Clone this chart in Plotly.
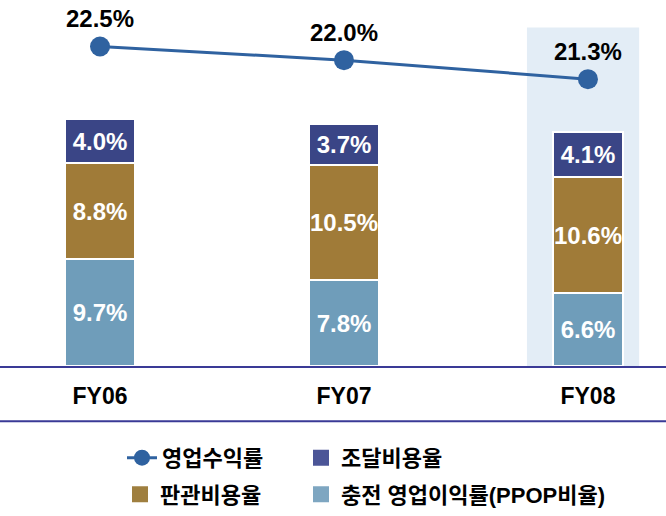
import plotly.graph_objects as go

categories = ["FY06", "FY07", "FY08"]
ppop = [9.7, 7.8, 6.6]          # 충전 영업이익률(PPOP비율)
sga = [8.8, 10.5, 10.6]         # 판관비용율
funding = [4.0, 3.7, 4.1]       # 조달비용율
op_margin = [22.5, 22.0, 21.3]  # 영업수익률

names = ["영업수익률", "조달비용율", "판관비용율", "충전 영업이익률(PPOP비율)"]

C_LINE = "#2F62A0"
C_NAVY = "#3A4586"
C_GOLD = "#A07B38"
C_LBLUE = "#6F9DBA"
L_NAVY = "#4B5597"
L_GOLD = "#9F7F3F"
L_LBLUE = "#7EA6C1"
AXIS_C = "#3A3A96"

FONT = "Liberation Sans, Arial, Noto Sans CJK KR, sans-serif"

xi = [0, 1, 2]

fig = go.Figure()

def fmt(v):
    return [f"{a:.1f}%" for a in v]

for vals, col in [(ppop, C_LBLUE), (sga, C_GOLD), (funding, C_NAVY)]:
    fig.add_trace(go.Bar(
        x=xi, y=vals, width=0.29, marker=dict(color=col, line=dict(color="white", width=2)),
        text=fmt(vals), textposition="inside", insidetextanchor="middle", textangle=0,
        textfont=dict(family=FONT, size=24, color="white", weight="bold"),
        constraintext="none", showlegend=False, hoverinfo="skip",
    ))

fig.add_trace(go.Scatter(
    x=xi, y=op_margin, yaxis="y2", mode="lines+markers+text",
    line=dict(color=C_LINE, width=3), marker=dict(size=20, color=C_LINE),
    text=fmt(op_margin), textposition="top center",
    textfont=dict(family=FONT, size=24, color="black", weight="bold"),
    name=names[0], legend="legend", hoverinfo="skip",
))

# legend-only entries for the bar series
fig.add_trace(go.Scatter(x=[None], y=[None], mode="markers", name=names[1],
                         marker=dict(symbol="square", size=16, color=L_NAVY),
                         legend="legend2"))
fig.add_trace(go.Scatter(x=[None], y=[None], mode="markers", name=names[2],
                         marker=dict(symbol="square", size=16, color=L_GOLD),
                         legend="legend3"))
fig.add_trace(go.Scatter(x=[None], y=[None], mode="markers", name=names[3],
                         marker=dict(symbol="square", size=16, color=L_LBLUE),
                         legend="legend4"))

leg_common = dict(orientation="h", xanchor="left", yanchor="middle",
                  font=dict(family=FONT, size=22, color="black", weight="bold"),
                  bgcolor="rgba(0,0,0,0)", itemclick=False, itemdoubleclick=False)

fig.update_layout(
    width=666, height=516,
    margin=dict(l=0, r=0, t=0, b=146),
    paper_bgcolor="white", plot_bgcolor="white",
    barmode="stack", bargap=0,
    xaxis=dict(range=[-0.41, 2.32], tickvals=xi, ticktext=categories,
               showgrid=False, zeroline=False, showline=True, linecolor=AXIS_C, linewidth=2,
               ticks="", ticklabelstandoff=8,
               tickfont=dict(family=FONT, size=23, color="black", weight="bold")),
    yaxis=dict(range=[0, 33.3], visible=False),
    yaxis2=dict(range=[10.76, 24.21], overlaying="y", visible=False),
    legend=dict(x=122 / 666, y=-0.251, **leg_common),
    legend2=dict(x=301 / 666, y=-0.251, **leg_common),
    legend3=dict(x=120 / 666, y=-0.351, **leg_common),
    legend4=dict(x=301 / 666, y=-0.351, **leg_common),
    shapes=[
        dict(type="rect", xref="x", yref="y", x0=1.75, x1=2.21, y0=0, y1=30.8,
             fillcolor="#E3EDF6", line=dict(width=0), layer="below"),
        dict(type="line", xref="paper", yref="paper", x0=0, x1=1, y0=-0.151, y1=-0.151,
             line=dict(color=AXIS_C, width=2)),
    ],
)

fig.write_html("out.html", config={"displayModeBar": False},
               post_script="document.body.style.margin='0';")
